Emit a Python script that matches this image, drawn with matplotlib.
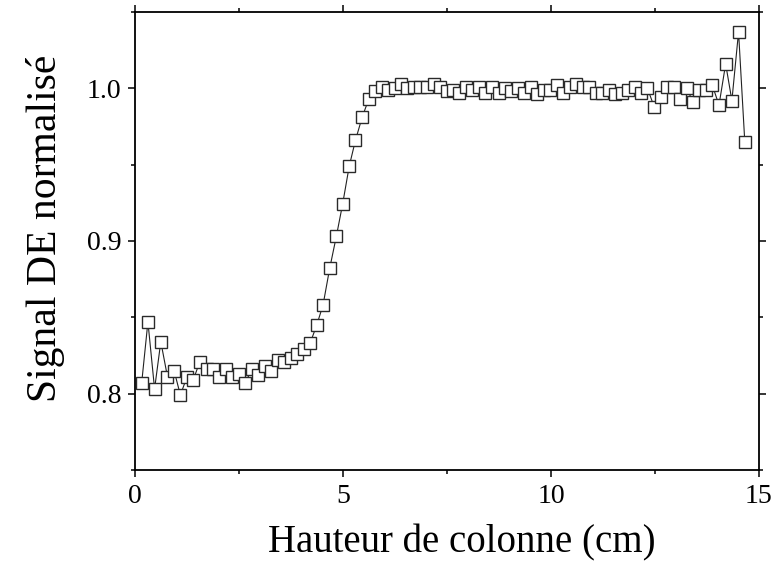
import matplotlib

matplotlib.use("Agg")

import matplotlib.pyplot as plt
from matplotlib.ticker import MultipleLocator

# Position along the column (cm) and normalised DE signal
hauteur = [
    0.16, 0.31, 0.47, 0.62, 0.78, 0.94, 1.09, 1.25, 1.40, 1.56,
    1.72, 1.87, 2.03, 2.18, 2.34, 2.50, 2.65, 2.81, 2.96, 3.12,
    3.28, 3.43, 3.59, 3.74, 3.90, 4.06, 4.21, 4.37, 4.52, 4.68,
    4.84, 4.99, 5.15, 5.30, 5.46, 5.62, 5.77, 5.93, 6.08, 6.24,
    6.40, 6.55, 6.71, 6.86, 7.02, 7.18, 7.33, 7.49, 7.64, 7.80,
    7.96, 8.11, 8.27, 8.42, 8.58, 8.74, 8.89, 9.05, 9.20, 9.36,
    9.52, 9.67, 9.83, 9.98, 10.14, 10.30, 10.45, 10.61, 10.76, 10.92,
    11.08, 11.23, 11.39, 11.54, 11.70, 11.86, 12.01, 12.17, 12.32, 12.48,
    12.64, 12.79, 12.95, 13.10, 13.26, 13.42, 13.57, 13.73, 13.88, 14.04,
    14.20, 14.35, 14.51, 14.66,
]
signal = [
    0.807, 0.847, 0.803, 0.834, 0.811, 0.815, 0.799, 0.811, 0.809, 0.821,
    0.816, 0.816, 0.811, 0.816, 0.811, 0.813, 0.807, 0.816, 0.812, 0.818,
    0.815, 0.822, 0.821, 0.823, 0.826, 0.829, 0.833, 0.845, 0.858, 0.882,
    0.903, 0.924, 0.949, 0.966, 0.981, 0.993, 0.998, 1.001, 0.999, 1.000,
    1.003, 1.000, 1.001, 1.001, 1.001, 1.003, 1.001, 0.998, 0.999, 0.997,
    1.001, 0.999, 1.001, 0.997, 1.001, 0.997, 1.000, 0.998, 1.000, 0.997,
    1.001, 0.996, 0.999, 0.999, 1.002, 0.997, 1.001, 1.003, 1.001, 1.001,
    0.997, 0.997, 0.999, 0.996, 0.997, 0.999, 1.001, 0.997, 1.000, 0.988,
    0.994, 1.001, 1.001, 0.993, 1.000, 0.991, 0.999, 0.999, 1.002, 0.989,
    1.016, 0.992, 1.037, 0.965,
]

x_ticks = [0, 5, 10, 15]
y_ticks = [0.8, 0.9, 1.0]

plt.rcParams["font.family"] = ["Liberation Serif", "DejaVu Serif"]

fig = plt.figure(figsize=(7.76, 5.73), dpi=100)
ax = fig.add_axes([0.174, 0.180, 0.804, 0.799])

ax.plot(hauteur, signal, ls="-", lw=0.8, color="#222222",
        marker="s", ms=8, mfc="white", mec="#2a2a2a", mew=1.0)

ax.set_xlim(0, 15)
ax.set_ylim(0.75, 1.05)
ax.set_xticks(x_ticks)
ax.set_yticks(y_ticks)
ax.set_xticklabels([f"{t:g}" for t in x_ticks])
ax.set_yticklabels([f"{t:.1f}" for t in y_ticks])
ax.xaxis.set_minor_locator(MultipleLocator(2.5))
ax.yaxis.set_minor_locator(MultipleLocator(0.05))

for side in ax.spines.values():
    side.set_linewidth(1.3)
ax.tick_params(which="both", direction="out", top=True, right=True,
               labeltop=False, labelright=False, width=1.1)
ax.tick_params(which="major", length=5, labelsize=20, pad=5)
ax.tick_params(which="minor", length=3)

ax.set_xlabel("Hauteur de colonne (cm)", fontsize=28)
ax.set_ylabel("Signal DE normalisé", fontsize=30)
ax.xaxis.set_label_coords(0.524, -0.12)
ax.yaxis.set_label_coords(-0.112, 0.528)

fig.savefig("out.png", dpi=100)
